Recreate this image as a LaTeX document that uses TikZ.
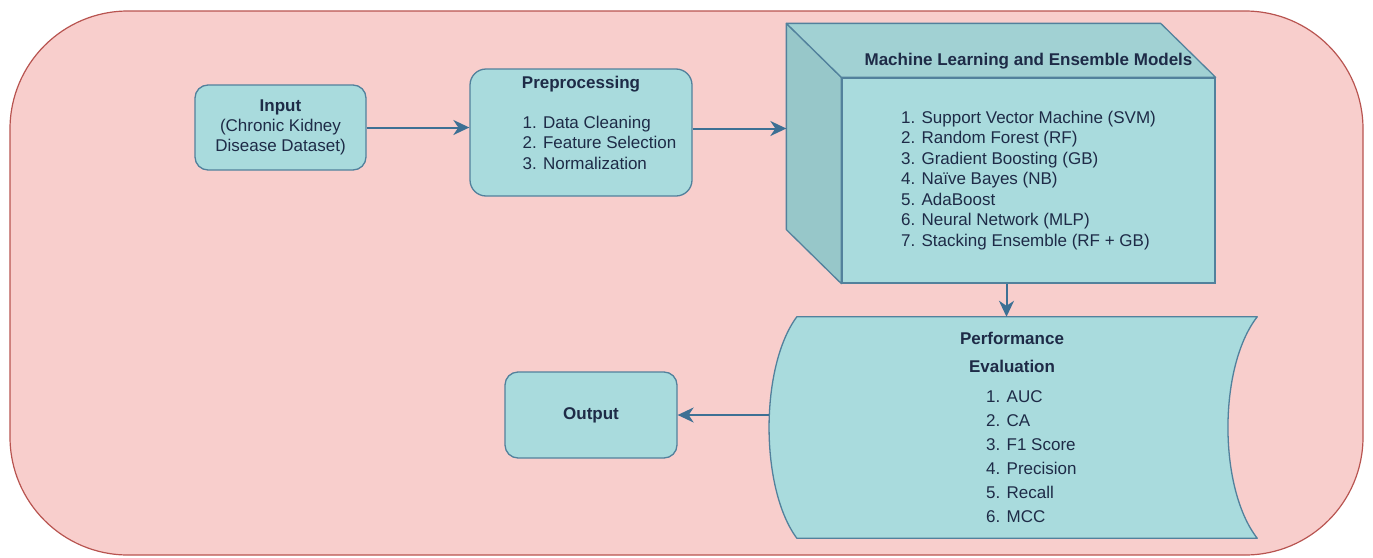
\documentclass[tikz,border=0pt]{standalone}
\usepackage{fontspec}
\setmainfont{Liberation Sans}
\usetikzlibrary{arrows.meta}

\definecolor{bgpink}{HTML}{F8CECC}
\definecolor{bgline}{HTML}{B85450}
\definecolor{boxfill}{HTML}{A9DBDD}
\definecolor{boxline}{HTML}{52819C}
\definecolor{sideface}{HTML}{97C7C9}
\definecolor{topface}{HTML}{A1D1D3}
\definecolor{flowline}{HTML}{3D7094}
\definecolor{ink}{HTML}{1E2B47}

\begin{document}
\begin{tikzpicture}[x=1pt,y=-1pt,
    frame/.style={draw=bgline,fill=bgpink,line width=1.2pt,rounded corners=118pt},
    box/.style={draw=boxline,fill=boxfill,line width=1.3pt,rounded corners=13pt,
        text=ink,font=\fontsize{17}{20}\selectfont,align=center},
    lbl/.style={text=ink,font=\fontsize{17}{20.5}\selectfont,inner sep=0pt},
    flow/.style={draw=flowline,line width=2pt,->},
    >={Stealth[length=16pt,width=15pt,inset=5pt]}]

\useasboundingbox (0,0) rectangle (1373,557);

% outer container
\node[frame,minimum width=1353pt,minimum height=544pt] (frame) at (686.5,283) {};

% input and preprocessing
\node[box,minimum width=171pt,minimum height=85pt] (input) at (280.5,127.5)
    {\textbf{Input}\\(Chronic Kidney\\Disease Dataset)};
\node[box,minimum width=222pt,minimum height=127pt,rounded corners=16pt] (preproc) at (581,132.5) {};
\node[lbl,font=\fontsize{17}{20.5}\selectfont\bfseries] (preproc-title) at ([yshift=-16pt]preproc.north) {Preprocessing};
\node[lbl,anchor=west,align=left] (preproc-list) at ([xshift=53pt,yshift=-10pt]preproc.west)
    {1. Data Cleaning\\2. Feature Selection\\3. Normalization};

% model block drawn as a box: front face, then side and top
\node[box,rounded corners=0pt,minimum width=373pt,minimum height=205pt,align=left,
      font=\fontsize{17}{20.5}\selectfont] (models) at (1028.5,180.5)
    {1. Support Vector Machine (SVM)\\2. Random Forest (RF)\\3. Gradient Boosting (GB)\\
     4. Na\"ive Bayes (NB)\\5. AdaBoost\\6. Neural Network (MLP)\\7. Stacking Ensemble (RF + GB)};
\filldraw[fill=sideface,draw=boxline,line width=1.3pt,line join=round]
    (models.north west) -- ++(-55,-54) -- ([shift={(-55,-54)}]models.south west) -- (models.south west) -- cycle;
\filldraw[fill=topface,draw=boxline,line width=1.3pt,line join=round]
    (models.north west) -- ++(-55,-54) -- ([shift={(-55,-54)}]models.north east) -- (models.north east) -- cycle;
\node[lbl,font=\fontsize{17}{20.5}\selectfont\bfseries] (models-title) at ([yshift=16pt]models.north)
    {Machine Learning and Ensemble Models};
\coordinate (models-back) at ([xshift=-55pt]models.west);

% evaluation store
\node[minimum width=460pt,minimum height=221pt,inner sep=0pt] (perf) at (1027,427.5) {};
\filldraw[fill=boxfill,draw=boxline,line width=1.3pt,line join=round]
    (perf.north west) -- (perf.north east)
    .. controls ([xshift=-39pt,yshift=-50pt]perf.north east) and ([xshift=-39pt,yshift=50pt]perf.south east) .. (perf.south east)
    -- (perf.south west)
    .. controls ([xshift=-37pt,yshift=50pt]perf.south west) and ([xshift=-37pt,yshift=-50pt]perf.north west) .. (perf.north west)
    -- cycle;
\node[lbl,align=center,font=\fontsize{17}{28}\selectfont\bfseries] (perf-title) at ([xshift=-15pt,yshift=-36pt]perf.north)
    {Performance\\Evaluation};
\node[lbl,anchor=west,align=left,font=\fontsize{17}{24}\selectfont] (perf-list) at ([xshift=-41pt,yshift=-29.5pt]perf.center)
    {1. AUC\\2. CA\\3. F1 Score\\4. Precision\\5. Recall\\6. MCC};
\coordinate (perf-bulge) at ([xshift=-28pt]perf.west);

% output
\node[box,minimum width=172pt,minimum height=86pt] (output) at (591,415) {\textbf{Output}};

% connections
\coordinate (drop) at ([xshift=-22pt]models.south);
\draw[flow] (input.east) -- (input.east -| preproc.west);
\draw[flow] ([yshift=4pt]preproc.east) -- ([yshift=4pt]preproc.east -| models-back);
\draw[flow] (drop) -- (drop |- perf.north);
\draw[flow] (perf-bulge |- output.east) -- (output.east);

\end{tikzpicture}
\end{document}
